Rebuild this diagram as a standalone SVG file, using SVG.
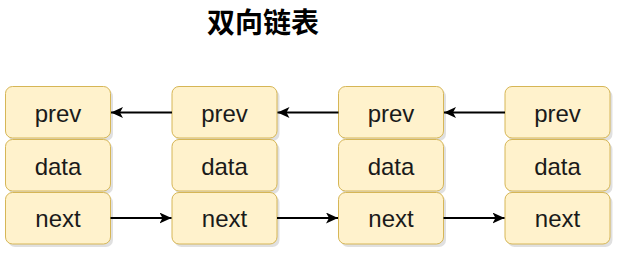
<svg xmlns="http://www.w3.org/2000/svg" width="622" height="257" viewBox="0 0 622 257">
<style>
.bx{fill:#fff2cc;stroke:#d6b656;stroke-width:1}
.sh{fill:#000;opacity:0.12}
.t{font-family:"Liberation Sans",Arial,sans-serif;font-size:24px;fill:#1a1a1a;text-anchor:middle}
.title{font-family:"Noto Sans CJK SC","Liberation Sans",sans-serif;font-size:28px;font-weight:bold;fill:#000;text-anchor:middle}
.ln{stroke:#000;stroke-width:2;fill:none}
</style>
<defs>
<marker id="ah" viewBox="0 0 13 11" refX="12" refY="5.5" markerWidth="13" markerHeight="11" markerUnits="userSpaceOnUse" orient="auto">
<path d="M0,0 L12,5.5 L0,11 L3,5.5 Z" fill="#000"/>
</marker>
<g id="cell">
<rect class="sh" x="2.5" y="3" width="105" height="51.5" rx="7"/>
<rect class="bx" x="0" y="0" width="105" height="51.5" rx="7"/>
</g>
</defs>
<text class="title" x="263" y="33">双向链表</text>
<g id="node1" transform="translate(5.5,0)">
<use href="#cell" y="86.5"/><use href="#cell" y="139.5"/><use href="#cell" y="192.5"/>
<text class="t" x="52.5" y="121.5">prev</text><text class="t" x="52.5" y="174.5">data</text><text class="t" x="52.5" y="227">next</text>
</g>
<g id="node2" transform="translate(172,0)">
<use href="#cell" y="86.5"/><use href="#cell" y="139.5"/><use href="#cell" y="192.5"/>
<text class="t" x="52.5" y="121.5">prev</text><text class="t" x="52.5" y="174.5">data</text><text class="t" x="52.5" y="227">next</text>
</g>
<g id="node3" transform="translate(338.5,0)">
<use href="#cell" y="86.5"/><use href="#cell" y="139.5"/><use href="#cell" y="192.5"/>
<text class="t" x="52.5" y="121.5">prev</text><text class="t" x="52.5" y="174.5">data</text><text class="t" x="52.5" y="227">next</text>
</g>
<g id="node4" transform="translate(505,0)">
<use href="#cell" y="86.5"/><use href="#cell" y="139.5"/><use href="#cell" y="192.5"/>
<text class="t" x="52.5" y="121.5">prev</text><text class="t" x="52.5" y="174.5">data</text><text class="t" x="52.5" y="227">next</text>
</g>
<g id="connectors">
<path class="ln" d="M172,112.5 H111" marker-end="url(#ah)"/>
<path class="ln" d="M338.5,112.5 H277.5" marker-end="url(#ah)"/>
<path class="ln" d="M505,112.5 H444" marker-end="url(#ah)"/>
<path class="ln" d="M110.5,218 H171.5" marker-end="url(#ah)"/>
<path class="ln" d="M277,218 H338" marker-end="url(#ah)"/>
<path class="ln" d="M443.5,218 H504.5" marker-end="url(#ah)"/>
</g>
</svg>
